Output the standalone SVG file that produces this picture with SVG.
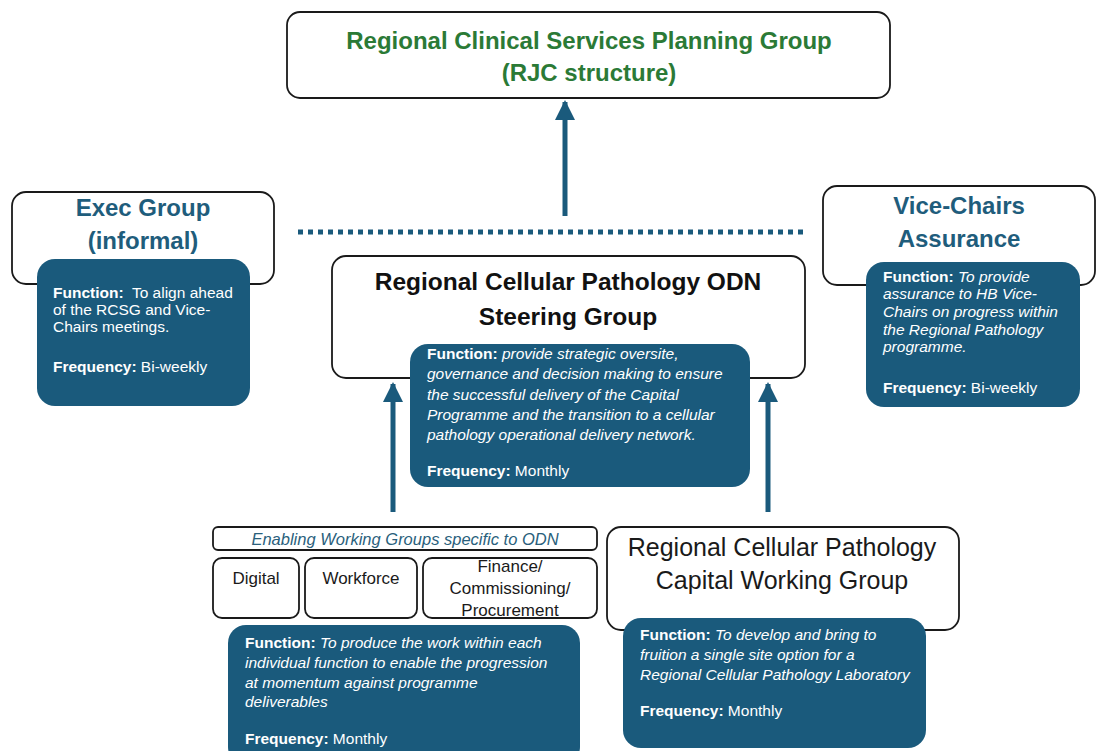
<svg xmlns="http://www.w3.org/2000/svg" width="1097" height="751" viewBox="0 0 1097 751">
  <defs>
    <style>
      .box { fill: #ffffff; stroke: #1a1a1a; stroke-width: 1.8; }
      .panel { fill: #1a5a7c; }
      .link { stroke: #1a5a7c; stroke-width: 5; fill: none; }
      .title { font-family: "Liberation Sans", Arial, sans-serif; font-weight: 700; text-anchor: middle; }
      .teal { fill: #1f5d7c; font-size: 24px; }
      .green { fill: #2b7a36; font-size: 24px; }
      .dark { fill: #111111; font-size: 24.5px; }
      .plain { font-family: "Liberation Sans", Arial, sans-serif; fill: #1a1a1a; text-anchor: middle; }
      .ptext { font-family: "Liberation Sans", Arial, sans-serif; fill: #ffffff; font-size: 15.5px; }
      .ptext .b { font-weight: 700; font-style: normal; }
      .it { font-style: italic; }
    </style>
    <marker id="head" viewBox="0 0 10 10" refX="9" refY="5" markerWidth="4" markerHeight="4" orient="auto" markerUnits="strokeWidth">
      <path d="M0,0 L10,5 L0,10 z" fill="#1a5a7c"/>
    </marker>
  </defs>

  <rect width="1097" height="751" fill="#ffffff"/>

  <!-- connectors -->
  <g id="connectors">
    <line class="link" x1="565" y1="216" x2="565" y2="102" marker-end="url(#head)"/>
    <line class="link" x1="393" y1="512" x2="393" y2="384" marker-end="url(#head)"/>
    <line class="link" x1="768" y1="512" x2="768" y2="384" marker-end="url(#head)"/>
    <line x1="298" y1="232" x2="804" y2="232" stroke="#1a5a7c" stroke-width="5" stroke-dasharray="5 5"/>
  </g>

  <!-- top group -->
  <g id="rcspg">
    <rect class="box" x="287" y="12" width="603" height="86" rx="13"/>
    <text class="title green" x="589" y="49">Regional Clinical Services Planning Group</text>
    <text class="title green" x="589" y="81">(RJC structure)</text>
  </g>

  <!-- exec group -->
  <g id="exec-group">
    <rect class="box" x="12" y="192" width="262" height="92" rx="14"/>
    <text class="title teal" x="143" y="216">Exec Group</text>
    <text class="title teal" x="143" y="249">(informal)</text>
    <rect class="panel" x="37" y="259" width="213" height="147" rx="18"/>
    <text class="ptext" x="53"><tspan x="53" y="298"><tspan class="b">Function:</tspan>&#160; To align ahead</tspan><tspan x="53" y="315">of the RCSG and Vice-</tspan><tspan x="53" y="332">Chairs meetings.</tspan><tspan x="53" y="372"><tspan class="b">Frequency:</tspan> Bi-weekly</tspan></text>
  </g>

  <!-- vice-chairs -->
  <g id="vice-chairs">
    <rect class="box" x="823" y="186" width="272" height="99" rx="14"/>
    <text class="title teal" x="959" y="214">Vice-Chairs</text>
    <text class="title teal" x="959" y="247">Assurance</text>
    <rect class="panel" x="866" y="262" width="214" height="145" rx="18"/>
    <text class="ptext" x="883"><tspan x="883" y="282"><tspan class="b">Function:</tspan> <tspan class="it">To provide</tspan></tspan><tspan class="it" x="883" y="299">assurance to HB Vice-</tspan><tspan class="it" x="883" y="317">Chairs on progress within</tspan><tspan class="it" x="883" y="335">the Regional Pathology</tspan><tspan class="it" x="883" y="352">programme.</tspan><tspan x="883" y="393"><tspan class="b">Frequency:</tspan> Bi-weekly</tspan></text>
  </g>

  <!-- steering group -->
  <g id="steering-group">
    <rect class="box" x="332" y="256" width="473" height="122" rx="14"/>
    <text class="title dark" x="568" y="290">Regional Cellular Pathology ODN</text>
    <text class="title dark" x="568" y="325">Steering Group</text>
    <rect class="panel" x="410" y="344" width="340" height="143" rx="18"/>
    <text class="ptext" x="427"><tspan x="427" y="359"><tspan class="b">Function:</tspan> <tspan class="it">provide strategic oversite,</tspan></tspan><tspan class="it" x="427" y="379">governance and decision making to ensure</tspan><tspan class="it" x="427" y="400">the successful delivery of the Capital</tspan><tspan class="it" x="427" y="420">Programme and the transition to a cellular</tspan><tspan class="it" x="427" y="440">pathology operational delivery network.</tspan><tspan x="427" y="476"><tspan class="b">Frequency:</tspan> Monthly</tspan></text>
  </g>

  <!-- enabling working groups -->
  <g id="enabling-groups">
    <rect class="box" x="213" y="527" width="384" height="23" rx="5"/>
    <text class="plain it" x="405" y="545" style="font-size:16.5px;fill:#2a5f7c">Enabling Working Groups specific to ODN</text>
  </g>
  <g id="digital">
    <rect class="box" x="213" y="558" width="86" height="60" rx="9"/>
    <text class="plain" x="256" y="584" font-size="17">Digital</text>
  </g>
  <g id="workforce">
    <rect class="box" x="305" y="558" width="112" height="60" rx="9"/>
    <text class="plain" x="361" y="584" font-size="17">Workforce</text>
  </g>
  <g id="finance">
    <rect class="box" x="423" y="558" width="174" height="60" rx="9"/>
    <text class="plain" x="510" y="572" font-size="17">Finance/</text>
    <text class="plain" x="510" y="594" font-size="17">Commissioning/</text>
    <text class="plain" x="510" y="616" font-size="17">Procurement</text>
  </g>
  <g id="working-groups-panel">
    <rect class="panel" x="228" y="625" width="352" height="140" rx="18"/>
    <text class="ptext" x="245"><tspan x="245" y="648"><tspan class="b">Function:</tspan> <tspan class="it">To produce the work within each</tspan></tspan><tspan class="it" x="245" y="668">individual function to enable the progression</tspan><tspan class="it" x="245" y="688">at momentum against programme</tspan><tspan class="it" x="245" y="707">deliverables</tspan><tspan x="245" y="744"><tspan class="b">Frequency:</tspan> Monthly</tspan></text>
  </g>

  <!-- capital working group -->
  <g id="capital-group">
    <rect class="box" x="607" y="527" width="352" height="103" rx="14"/>
    <text class="plain" x="782" y="556" font-size="25">Regional Cellular Pathology</text>
    <text class="plain" x="782" y="589" font-size="25">Capital Working Group</text>
    <rect class="panel" x="623" y="618" width="303" height="130" rx="18"/>
    <text class="ptext" x="640"><tspan x="640" y="640"><tspan class="b">Function:</tspan> <tspan class="it">To develop and bring to</tspan></tspan><tspan class="it" x="640" y="660">fruition a single site option for a</tspan><tspan class="it" x="640" y="680">Regional Cellular Pathology Laboratory</tspan><tspan x="640" y="716"><tspan class="b">Frequency:</tspan> Monthly</tspan></text>
  </g>
</svg>
